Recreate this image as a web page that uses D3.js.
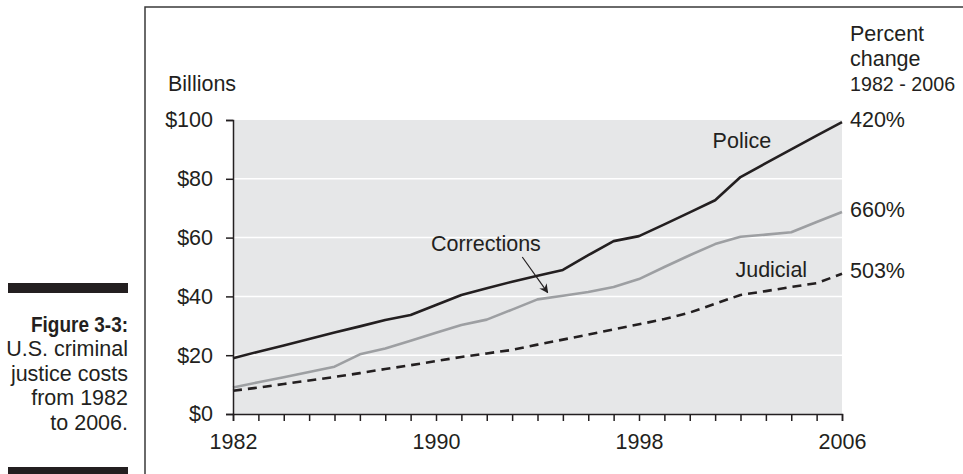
<!DOCTYPE html>
<meta charset="utf-8">
<style>

body {
	margin: 0;
	background: #fff;
}

.canvas text {
	font-family: "Liberation Sans", Arial, sans-serif;
	font-size: 21.5px;
	fill: #231f20;
}

.canvas .caption .bold {
	font-weight: bold;
}

.axis path, .axis line {
	stroke: #231f20;
	stroke-width: 1.5;
}

.grid line {
	stroke: #fff;
	stroke-width: 1.5;
}

.series {
	fill: none;
	stroke-width: 2.6;
	stroke-linejoin: round;
}

</style>
<svg class="canvas"></svg>
<script src="https://cdn.jsdelivr.net/npm/d3@7"></script>
<script>

var years = [1982, 1983, 1984, 1985, 1986, 1987, 1988, 1989, 1990, 1991, 1992, 1993,
	1994, 1995, 1996, 1997, 1998, 1999, 2000, 2001, 2002, 2003, 2004, 2005, 2006];

// billions of dollars
var police = [19.0, 21.2, 23.3, 25.5, 27.7, 29.8, 32.0, 33.7, 37.1, 40.5, 42.8, 45.0,
	47.0, 49.0, 54.0, 58.8, 60.5, 64.5, 68.6, 72.7, 80.6, 85.3, 90.0, 94.7, 99.3];
var corrections = [9.0, 10.8, 12.5, 14.3, 16.1, 20.3, 22.3, 24.9, 27.6, 30.3, 32.1, 35.5,
	39.0, 40.2, 41.5, 43.2, 45.9, 50.0, 54.0, 57.8, 60.3, 61.0, 61.8, 65.3, 68.7];
var judicial = [7.9, 9.0, 10.2, 11.4, 12.6, 13.9, 15.3, 16.6, 18.0, 19.4, 20.6, 21.8,
	23.6, 25.3, 27.0, 28.8, 30.5, 32.3, 34.5, 37.5, 40.5, 41.8, 43.2, 44.5, 47.7];

var seriesNames = ["Police", "Corrections", "Judicial"];
var pctChange = ["420%", "660%", "503%"];

var yTicks = [0, 20, 40, 60, 80, 100];
var yGrid = [20, 40, 60, 80];
var xLabelYears = [1982, 1990, 1998, 2006];

var headerLines = ["Percent", "change", "1982 - 2006"];
var captionTitle = "Figure 3-3:";
var captionLines = ["U.S. criminal", "justice costs", "from 1982", "to 2006."];

var width = 963,
	height = 474;

var LEFT = 233, RIGHT = 842, TOP = 120, BOTTOM = 414;
var INK = "#231f20";

var canvas = d3.select(".canvas")
	.attr("width", width)
	.attr("height", height);

var x = d3.scaleLinear().domain([1982, 2006]).range([LEFT, RIGHT]);
var y = d3.scaleLinear().domain([0, 100]).range([BOTTOM, TOP]);

// page frame and side caption
canvas.append("path")
	.attr("d", "M145," + height + "V7H" + width)
	.attr("fill", "none")
	.attr("stroke", "#3a3a3a")
	.attr("stroke-width", 1.5);

canvas.append("rect").attr("x", 8).attr("y", 283).attr("width", 120).attr("height", 10).attr("fill", INK);
canvas.append("rect").attr("x", 8).attr("y", 467).attr("width", 120).attr("height", 10).attr("fill", INK);

var caption = canvas.append("g").attr("class", "caption");
caption.append("text")
	.attr("class", "bold")
	.attr("x", 128)
	.attr("y", 331.5)
	.attr("text-anchor", "end")
	.attr("textLength", 97)
	.attr("lengthAdjust", "spacingAndGlyphs")
	.text(captionTitle);
caption.selectAll("text.line").data(captionLines)
	.enter().append("text")
	.attr("class", "line")
	.attr("x", 128)
	.attr("y", function(d, i) { return 356 + i * 24.5; })
	.attr("text-anchor", "end")
	.text(function(d) { return d; });

// plot background + grid
canvas.append("rect")
	.attr("x", LEFT)
	.attr("y", TOP)
	.attr("width", RIGHT - LEFT)
	.attr("height", BOTTOM - TOP)
	.attr("fill", "#e6e7e8");

canvas.append("g").attr("class", "grid")
	.selectAll("line").data(yGrid)
	.enter().append("line")
	.attr("x1", LEFT)
	.attr("x2", RIGHT)
	.attr("y1", function(d) { return y(d); })
	.attr("y2", function(d) { return y(d); });

// series
var line = d3.line()
	.x(function(d, i) { return x(years[i]); })
	.y(function(d) { return y(d); });

canvas.append("path").datum(corrections)
	.attr("class", "series")
	.attr("stroke", "#9d9fa2")
	.attr("d", line);

canvas.append("path").datum(judicial)
	.attr("class", "series")
	.attr("stroke", INK)
	.attr("stroke-dasharray", "9,6")
	.attr("d", line);

canvas.append("path").datum(police)
	.attr("class", "series")
	.attr("stroke", INK)
	.attr("d", line);

// axes
canvas.append("g")
	.attr("class", "axis")
	.attr("transform", "translate(" + LEFT + ",0)")
	.call(d3.axisLeft(y).tickValues(yTicks).tickSize(7).tickPadding(13)
		.tickFormat(function(d) { return "$" + d; }));

canvas.append("g")
	.attr("class", "axis")
	.attr("transform", "translate(0," + BOTTOM + ")")
	.call(d3.axisBottom(x).tickValues(years).tickSize(7).tickPadding(13)
		.tickFormat(function(d) { return xLabelYears.indexOf(d) >= 0 ? d : ""; }));

canvas.selectAll(".axis text")
	.attr("font-family", null)
	.attr("font-size", null)
	.attr("fill", INK);
canvas.selectAll(".axis > path.domain").attr("fill", "none");

canvas.append("text")
	.attr("x", 168)
	.attr("y", 91)
	.text("Billions");

// right-hand header and percent labels
canvas.selectAll("text.header").data(headerLines)
	.enter().append("text")
	.attr("class", "header")
	.attr("x", RIGHT + 8)
	.attr("y", function(d, i) { return 41 + i * 25; })
	.text(function(d) { return d; })
	.each(function() {
		// the original face is condensed; shrink anything that would run off the page
		var room = width - RIGHT - 16,
			w = this.getComputedTextLength();
		if (w > room) d3.select(this).style("font-size", (21.5 * room / w).toFixed(1) + "px");
	});

var lastValues = [police, corrections, judicial].map(function(s) { return s[s.length - 1]; });
canvas.selectAll("text.pct").data(pctChange)
	.enter().append("text")
	.attr("class", "pct")
	.attr("x", RIGHT + 8)
	.attr("y", function(d, i) { return y(lastValues[i]) - 3; })
	.attr("dy", "0.35em")
	.text(function(d) { return d; });

// series name labels (placed in data space)
var nameAt = [[2000.9, 90.5], [1989.8, 55.5], [2001.8, 46.6]];
canvas.selectAll("text.name").data(seriesNames)
	.enter().append("text")
	.attr("class", "name")
	.attr("x", function(d, i) { return x(nameAt[i][0]); })
	.attr("y", function(d, i) { return y(nameAt[i][1]); })
	.text(function(d) { return d; });

// arrow from "Corrections" down to its line
canvas.append("defs").append("marker")
	.attr("id", "head")
	.attr("viewBox", "0 0 10 10")
	.attr("refX", 9)
	.attr("refY", 5)
	.attr("markerWidth", 9)
	.attr("markerHeight", 9)
	.attr("markerUnits", "userSpaceOnUse")
	.attr("orient", "auto")
	.append("path")
	.attr("d", "M0,0L10,5L0,10L3,5Z")
	.attr("fill", INK);

canvas.append("line")
	.attr("x1", x(1993.4))
	.attr("y1", y(53.4))
	.attr("x2", x(1994.4))
	.attr("y2", y(41.3))
	.attr("stroke", INK)
	.attr("stroke-width", 1.2)
	.attr("marker-end", "url(#head)");

</script>
